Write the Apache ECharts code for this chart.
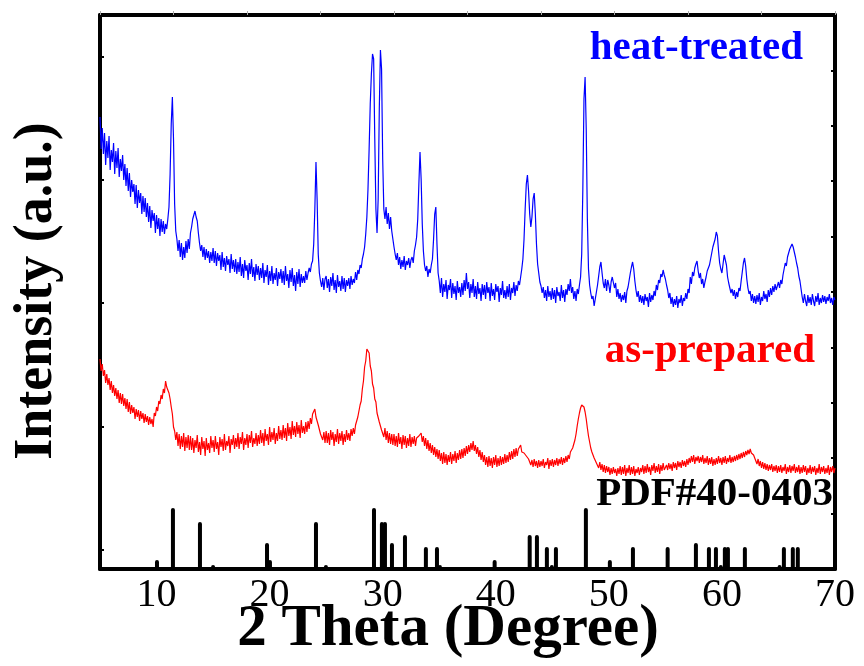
<!DOCTYPE html>
<html><head><meta charset="utf-8">
<script src="https://cdn.jsdelivr.net/npm/echarts@6/dist/echarts.min.js"></script>
<style>html,body{margin:0;padding:0;background:#fff}#c{width:864px;height:666px}</style>
</head><body><div id="c"></div>
<script>
// 2θ sampling grid of the measured patterns (degrees)
const thetaStart = 5, thetaStep = 0.1;
// heat-treated pattern (a.u.), one value per grid step from 5.0° to 70.0°
const heatTreated = [
452,420,441,415,436,404,428,411,433,399,419,407,426,395,418,401,421,392,410,398,
414,389,405,383,401,378,396,372,389,377,385,365,384,361,379,366,376,355,373,357,
371,352,366,347,363,341,359,348,356,336,354,340,351,333,350,337,348,335,345,340,
350,362,395,445,472,430,365,338,330,318,329,312,326,309,322,311,328,316,330,320,
336,342,350,354,358,352,348,336,326,318,324,312,322,309,320,311,318,306,317,308,
321,306,318,303,316,308,314,299,317,302,311,298,313,304,310,296,315,300,309,297,
310,295,307,297,312,293,305,291,309,298,304,289,306,295,310,292,302,288,305,294,
303,289,301,291,306,286,299,292,304,284,298,288,303,285,296,289,301,283,297,290,
300,286,298,284,303,288,295,281,299,287,301,283,294,278,297,285,300,282,295,286,
293,286,298,289,296,301,297,305,308,325,360,407,370,315,296,288,282,291,279,290,
293,281,290,277,292,283,296,279,289,276,294,282,288,278,293,280,291,277,289,283,
291,280,293,284,290,286,297,289,299,295,304,301,310,315,322,335,352,380,420,465,
495,515,510,430,360,336,370,460,519,500,410,360,350,362,345,356,340,352,338,330,
322,315,309,316,304,312,300,309,302,313,299,308,304,311,301,309,312,306,318,324,
332,350,385,417,390,345,318,304,298,303,292,300,296,304,310,330,355,362,325,296,
288,276,291,272,285,277,289,270,284,279,290,271,286,275,283,269,288,276,282,272,
286,274,289,278,296,280,287,271,285,276,290,272,283,270,287,275,281,268,285,274,
284,270,287,276,282,268,286,273,280,269,285,277,283,267,281,274,288,271,279,270,
283,272,285,269,281,276,287,273,284,278,288,284,292,300,310,330,360,385,394,378,
355,342,352,370,376,355,325,305,296,287,283,276,282,271,279,268,283,272,278,269,
281,270,279,266,282,273,277,268,284,271,279,267,280,274,285,278,290,276,282,270,
278,268,280,275,284,292,315,380,470,492,440,350,300,284,276,270,273,263,270,277,
284,293,302,307,296,286,281,290,278,289,284,276,287,292,294,281,286,272,280,270,
276,267,274,269,277,266,278,282,289,296,302,307,300,288,279,272,278,267,274,266,
273,264,275,268,272,262,276,267,274,269,278,273,284,279,289,286,295,292,299,294,
290,284,279,271,276,265,272,262,270,264,273,261,270,266,274,263,271,268,276,270,
280,276,292,285,297,293,301,305,308,298,291,296,285,290,281,287,292,298,296,304,
310,316,322,320,330,337,333,318,306,300,296,305,314,316,304,292,286,281,276,280,
273,279,270,277,272,281,278,288,297,306,311,303,290,281,275,278,268,275,266,273,
265,274,267,276,264,272,268,278,270,275,267,279,272,281,274,283,277,285,279,283,
287,281,289,285,294,300,306,303,312,316,320,318,325,322,317,312,306,301,293,288,
280,272,266,275,268,263,274,266,272,264,275,268,263,273,267,276,264,271,266,274,
267,273,265,272,268,275,266,271,264,272,269
];
// as-prepared pattern (a.u.), same grid
const asPrepared = [
210,198,205,193,199,186,195,184,191,179,188,176,184,173,181,170,179,166,176,165,
175,163,171,160,170,157,167,155,164,156,162,150,160,152,159,148,158,150,156,146,
155,147,153,144,152,145,150,142,156,153,162,158,168,165,174,170,180,176,188,182,
184,176,170,162,155,142,138,129,137,123,135,120,133,122,136,118,132,121,134,119,
133,119,131,116,129,121,134,117,127,114,132,120,128,113,131,119,126,116,133,121,
129,117,133,120,127,114,132,122,130,118,135,119,128,123,133,116,130,124,134,120,
131,122,136,120,132,125,137,119,131,124,135,121,134,126,138,122,131,125,136,123,
134,125,139,126,136,123,140,128,135,124,142,127,137,129,141,125,136,128,143,130,
139,129,144,131,141,128,146,133,142,130,148,134,143,132,147,135,144,131,149,136,
143,135,147,137,148,140,151,145,155,153,160,152,152,144,143,135,136,129,137,126,
138,126,136,124,139,129,137,123,135,127,140,125,136,128,138,124,135,127,139,129,
136,128,140,133,141,135,144,144,152,153,164,168,180,188,202,208,220,222,216,203,
198,185,181,170,167,156,154,147,147,139,140,132,141,129,138,126,136,125,135,124,
135,123,133,122,136,125,132,120,134,124,133,121,131,123,135,122,132,125,133,123,
131,131,133,134,136,127,133,123,131,120,129,118,126,116,124,114,122,112,120,110,
119,108,116,105,117,106,115,104,114,107,117,105,115,108,118,106,116,109,119,110,
120,111,121,113,123,115,124,117,126,119,128,118,124,115,122,112,119,109,117,107,
114,104,112,102,113,103,111,101,112,104,114,102,111,103,113,104,112,105,115,106,
114,107,117,109,118,110,120,112,121,113,120,118,124,117,118,116,115,113,112,110,
111,104,109,102,110,103,108,101,109,102,108,103,110,101,107,104,111,100,109,103,
110,102,109,104,111,103,110,105,112,104,111,106,113,107,114,110,117,115,121,122,
129,135,143,150,156,161,164,166,162,157,150,141,133,127,121,117,114,111,109,106,
108,101,107,99,105,97,104,96,103,97,102,94,101,95,102,96,100,93,101,95,
103,94,102,95,104,93,101,96,104,94,102,95,103,93,100,96,102,94,101,97,
104,95,103,96,105,97,102,94,104,98,106,96,103,97,105,95,104,98,106,99,
98,104,99,106,100,105,98,107,101,106,99,108,102,107,101,109,103,108,102,110,
104,111,106,113,107,114,105,112,108,113,106,112,107,114,105,111,106,113,104,111,
105,112,103,110,104,111,105,113,106,111,104,112,106,113,105,111,107,114,106,112,
107,113,108,114,109,115,110,116,111,117,112,118,114,119,115,120,116,115,114,111,
112,105,110,103,108,101,107,100,106,99,105,98,104,99,105,97,103,98,104,96,
103,97,104,96,102,98,105,95,102,97,104,96,103,98,105,96,102,97,104,95,
102,96,104,97,103,94,101,96,104,95,102,97,103,94,101,96,105,95,102,97,
103,95,101,96,104,94,102,97,103,96,101
];
// PDF#40-0403 reference lines
const pdfTheta = [10.04,11.45,13.84,15.0,19.77,20.03,24.1,24.98,29.23,29.93,
  30.2,30.82,31.97,33.82,34.8,35.06,39.9,43.0,43.64,44.52,
  44.96,45.32,47.97,50.09,52.13,54.96,55.2,57.7,58.85,59.47,
  59.9,60.26,60.53,62.03,65.1,65.48,66.27,66.71];
const pdfIntensity = [9,61,47,4,26,9,47,4,61,47,
  47,26,34,22,22,4,9,34,34,22,
  4,22,61,9,22,2,22,26,22,22,
  4,22,22,22,4,22,22,22];
const xTickLabels = [10,20,30,40,50,60,70];
const leftTickValues = [19,142,266,389,512];
const seriesNames = ['heat-treated','as-prepared','PDF#40-0403'];
const xTitle = '2 Theta (Degree)';
const yTitle = 'Intensity (a.u.)';

const toPairs = arr => arr.map((v, i) => [+(thetaStart + i * thetaStep).toFixed(2), v]);
const serif = '"Liberation Serif", "Times New Roman", serif';

const chart = echarts.init(document.getElementById('c'), null, {renderer: 'canvas'});
chart.setOption({
  animation: false,
  backgroundColor: '#fff',
  grid: {left: 100, right: 29, top: 15, bottom: 97, containLabel: false, outerBoundsMode: 'none'},
  xAxis: [
    {type: 'value', min: 5, max: 70, position: 'bottom',
     axisLine: {show: true, onZero: false, lineStyle: {color: '#000', width: 4}},
     axisTick: {show: false},
     splitLine: {show: false},
     axisLabel: {customValues: xTickLabels, color: '#000', fontFamily: serif, fontSize: 40, margin: 6}},
    {type: 'value', min: 0, max: 10, interval: 1, position: 'top',
     axisLine: {show: true, onZero: false, lineStyle: {color: '#000', width: 4}},
     axisTick: {show: true, inside: false, length: 4, lineStyle: {color: '#aaa', width: 1}},
     axisLabel: {show: false}, splitLine: {show: false}}
  ],
  yAxis: [
    {type: 'value', min: 0, max: 554, position: 'left',
     axisLine: {show: true, onZero: false, lineStyle: {color: '#000', width: 4}},
     axisTick: {show: true, inside: true, length: 4, customValues: leftTickValues, lineStyle: {color: '#000', width: 2}},
     axisLabel: {show: false}, splitLine: {show: false}},
    {type: 'value', min: 0, max: 10, interval: 1, position: 'right',
     axisLine: {show: true, onZero: false, lineStyle: {color: '#000', width: 4}},
     axisTick: {show: true, inside: true, length: 4, lineStyle: {color: '#000', width: 2}},
     axisLabel: {show: false}, splitLine: {show: false}}
  ],
  series: [
    {name: seriesNames[0], type: 'line', xAxisIndex: 0, yAxisIndex: 0, data: toPairs(heatTreated),
     showSymbol: false, symbol: 'none', lineStyle: {color: '#0000ff', width: 1.2}, z: 3},
    {name: seriesNames[1], type: 'line', xAxisIndex: 0, yAxisIndex: 0, data: toPairs(asPrepared),
     showSymbol: false, symbol: 'none', lineStyle: {color: '#ff0000', width: 1.2}, z: 3},
    {name: seriesNames[2], type: 'bar', xAxisIndex: 0, yAxisIndex: 0,
     data: pdfTheta.map((t, i) => [t, pdfIntensity[i]]),
     barWidth: 4, itemStyle: {color: '#000', borderRadius: [2, 2, 0, 0]}, z: 2}
  ],
  graphic: [
    {type: 'text', x: 803, y: 48, style: {text: seriesNames[0], fill: '#0000ff', font: 'bold 41px ' + serif, align: 'right', verticalAlign: 'middle'}},
    {type: 'text', x: 815, y: 351, style: {text: seriesNames[1], fill: '#ff0000', font: 'bold 41px ' + serif, align: 'right', verticalAlign: 'middle'}},
    {type: 'text', x: 833, y: 494, style: {text: seriesNames[2], fill: '#000', font: 'bold 41px ' + serif, align: 'right', verticalAlign: 'middle'}},
    {type: 'text', x: 448, y: 630, style: {text: xTitle, fill: '#000', font: 'bold 59px ' + serif, align: 'center', verticalAlign: 'middle'}},
    {type: 'text', x: 37, y: 291, rotation: Math.PI / 2, style: {text: yTitle, fill: '#000', font: 'bold 54px ' + serif, align: 'center', verticalAlign: 'middle'}}
  ]
});
</script>
</body></html>
